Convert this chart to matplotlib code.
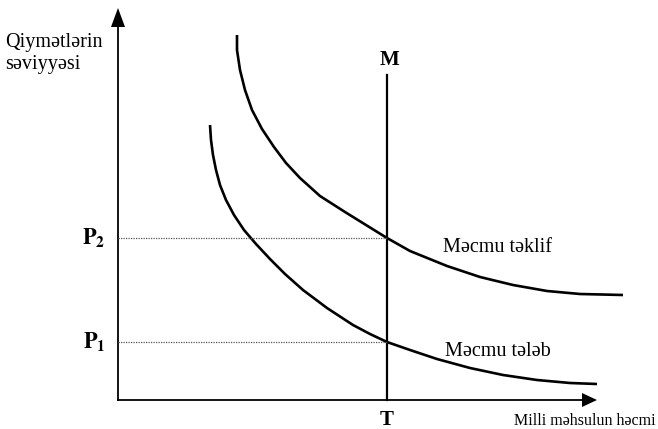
import matplotlib
matplotlib.use('Agg')
import matplotlib.pyplot as plt

plt.rcParams['font.family'] = ['Liberation Serif', 'DejaVu Serif']
plt.rcParams['mathtext.fontset'] = 'stix'

# points, origin at the axes corner
supplyX = [119, 119, 122, 127, 134, 144, 156, 168, 182, 202, 227, 248, 269, 292, 329, 362, 395, 429, 462, 505]
supplyY = [365, 350, 330, 310, 290, 271, 253, 237, 222, 204, 188, 175, 162, 149, 134, 123, 115, 109, 106, 105]
demandX = [92, 93, 95, 98, 102, 108, 116, 126, 138, 152, 167, 185, 209, 235, 252, 269, 292, 319, 352, 385, 419, 452, 479]
demandY = [275, 260, 245, 230, 215, 200, 185, 170, 156, 141, 126, 110, 92, 75, 66, 58, 50, 41, 32, 25, 20, 17, 16]

outputT = 269
priceP1 = 58
priceP2 = 162
mTop = 325

priceLevels = [priceP2, priceP1]
priceLabels = [r'$\mathbf{P_2}$', r'$\mathbf{P_1}$']

fig = plt.figure(figsize=(6.58, 4.29), dpi=100)
ax = fig.add_axes([0, 0, 1, 1])
ax.set_xlim(-118, 540)
ax.set_ylim(-29, 400)
ax.axis('off')

# axes with arrows
ax.arrow(0, -1, 0, 393, width=1.8, head_width=14, head_length=19,
         length_includes_head=True, fc='black', ec='black', lw=0)
ax.arrow(-1, 0, 480, 0, width=1.8, head_width=14, head_length=15,
         length_includes_head=True, fc='black', ec='black', lw=0)

# curves
ax.plot(supplyX, supplyY, color='black', lw=1.9, solid_capstyle='butt', solid_joinstyle='round')
ax.plot(demandX, demandY, color='black', lw=1.9, solid_capstyle='butt', solid_joinstyle='round')

# vertical M line
ax.plot([outputT, outputT], [0, mTop], color='black', lw=1.6)
ax.text(outputT + 2, mTop + 15, 'M', fontsize=15, fontweight='bold', ha='center', va='center')
ax.text(outputT, -20, 'T', fontsize=15, fontweight='bold', ha='center', va='center')

# dotted price lines
for p, lab in zip(priceLevels, priceLabels):
    ax.plot([0, outputT], [p, p], color='#555555', lw=0.9, linestyle=(0, (1, 1)))
    ax.text(-24, p, lab, fontsize=16, ha='center', va='center')

ax.text(325, 153, 'Məcmu təklif', fontsize=14.5, ha='left', va='center')
ax.text(327, 48, 'Məcmu tələb', fontsize=14.5, ha='left', va='center')
ax.text(-113, 358, 'Qiymətlərin', fontsize=14.5, ha='left', va='center')
ax.text(-113, 335, 'səviyyəsi', fontsize=14.5, ha='left', va='center')
ax.text(396, -21, 'Milli məhsulun həcmi', fontsize=11.5, ha='left', va='center')

fig.savefig('out.png', dpi=100)
